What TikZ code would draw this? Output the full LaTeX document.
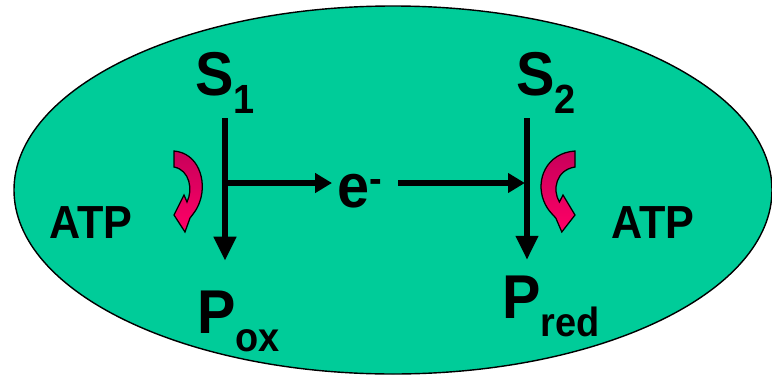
\documentclass[tikz,border=0pt]{standalone}
\usepackage{fontspec}
\setmainfont{Liberation Sans}
\usetikzlibrary{arrows.meta}
\definecolor{cellgreen}{HTML}{00CC99}
\definecolor{curldark}{HTML}{C8005A}
\definecolor{curlpink}{HTML}{FF0066}
\newcommand{\lowsub}[1]{\raisebox{-0.3em}{\fontsize{29}{30}\selectfont #1}}
\newcommand{\narrow}[1]{\scalebox{0.93}[1]{#1}}

\tikzset{
  lbl/.style={font=\bfseries\fontsize{44}{50}\selectfont,inner sep=0pt,anchor=base west},
  atp/.style={font=\bfseries\fontsize{33}{36}\selectfont,inner sep=0pt,anchor=base west},
  flow/.style={line width=3.6pt,-{Triangle[length=17pt,width=15.5pt]}},
  eflow/.style={line width=3.6pt,-{Triangle[length=12pt,width=13.5pt]}},
  atpcurl/.pic={
    \shade[top color=curldark,bottom color=curlpink,draw=black,line width=0.9pt]
      (0,0) .. controls (24,2) and (33,29) .. (26,50)
      .. controls (23,59) and (19,63) .. (16,67)
      -- (11,81) -- (0,64) -- (10,44) -- (13,51)
      .. controls (19,39) and (16,19) .. (0,16) -- cycle;
  }
}

\begin{document}
\begin{tikzpicture}[x=0.025cm,y=-0.025cm]
\useasboundingbox (0,0) rectangle (772,376);

% cell
\filldraw[fill=cellgreen,draw=black,line width=1pt] (393,190) ellipse [x radius=379,y radius=184];

% substrates and products
\node[lbl] (s1) at (195,95) {\narrow{S\lowsub{1}}};
\node[lbl] (s2) at (516,95) {\narrow{S\lowsub{2}}};
\node[lbl] (pox) at (197,333) {\narrow{P\lowsub{ox}}};
\node[lbl] (pred) at (502,318) {\narrow{P\lowsub{red}}};
\node[lbl,inner xsep=4pt] (el) at (332,207) {\narrow{e\raisebox{10.5pt}{\fontsize{29}{30}\selectfont -}}};
\node[atp] (atpl) at (49,238) {\narrow{ATP}};
\node[atp] (atpr) at (611,238) {\narrow{ATP}};

\coordinate (j1) at (225,183);
\coordinate (j2) at (527,183);

% reactions
\draw[flow,shorten <=3pt,shorten >=21pt] (j1 |- s1.south) -- (j1 |- pox.north);
\draw[flow,shorten <=3pt,shorten >=11pt] (j2 |- s2.south) -- (j2 |- pred.north);
\draw[eflow] (j1) -- (j1 -| el.west);
\draw[eflow,shorten <=7pt,shorten >=1.5pt] (j1 -| el.east) -- (j2);

% ATP curls
\pic at (174,151) {atpcurl};
\pic[xscale=-1.2] at (575,151) {atpcurl};

\end{tikzpicture}
\end{document}
